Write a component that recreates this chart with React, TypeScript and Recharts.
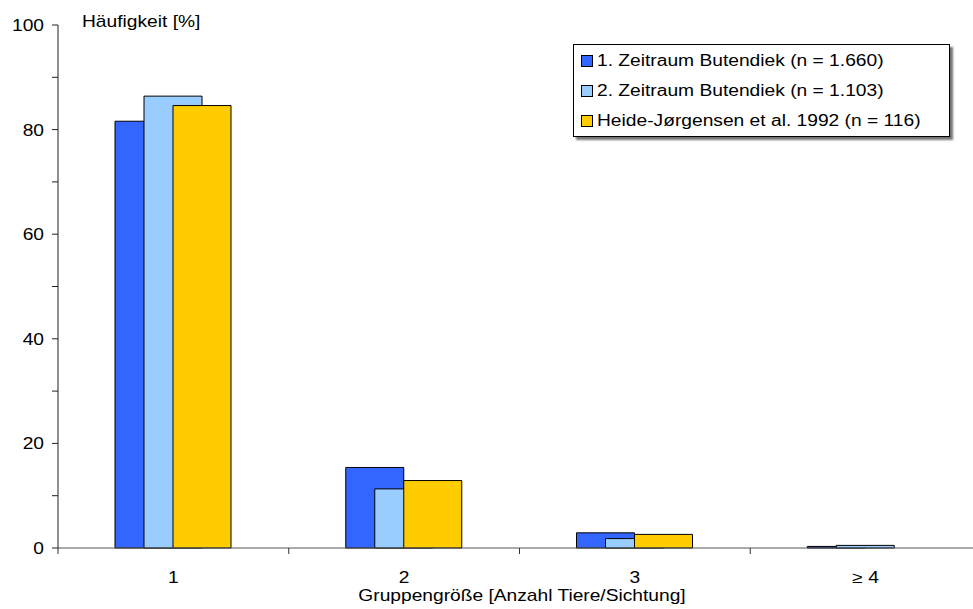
import { Bar, BarChart, Label, Legend, XAxis, YAxis } from "recharts"

const categories = ["1", "2", "3", "≥ 4"]
const zeitraum1 = [81.6, 15.4, 2.9, 0.3]
const zeitraum2 = [86.4, 11.3, 1.8, 0.5]
const heide = [84.6, 12.9, 2.6, 0]
const yTicks = [0, 10, 20, 30, 40, 50, 60, 70, 80, 90, 100]

const SERIES = [
  { key: "z1", name: "1. Zeitraum Butendiek (n = 1.660)", color: "#3366ff" },
  { key: "z2", name: "2. Zeitraum Butendiek (n = 1.103)", color: "#99ccff" },
  { key: "hj", name: "Heide-Jørgensen et al. 1992 (n = 116)", color: "#ffcc00" },
]

const data = categories.map((c, i) => ({
  cat: c,
  z1: zeitraum1[i],
  z2: zeitraum2[i],
  hj: heide[i],
}))

const FONT = "'Liberation Sans', Arial, sans-serif"
// the original text is a little wider than Arial, stretch it
const SX = 1.2

function XTick(props: any) {
  const { x, y, payload } = props
  const half = payload && payload.offset ? payload.offset : 115
  return (
    <g>
      <line x1={x - half} x2={x - half} y1={y} y2={y + 6} stroke="#333" />
      <text
        transform={`translate(${x},${y + 35}) scale(${SX},1)`}
        textAnchor="middle"
        fontSize={16}
        fill="#000"
        fontFamily={FONT}
      >
        {payload.value}
      </text>
    </g>
  )
}

function YTick(props: any) {
  const { x, y, payload } = props
  if (payload.value % 20 !== 0) return <g />
  return (
    <text
      transform={`translate(${x},${y + 6}) scale(${SX},1)`}
      textAnchor="end"
      fontSize={16}
      fill="#000"
      fontFamily={FONT}
    >
      {payload.value}
    </text>
  )
}

function LegendBox() {
  return (
    <div
      style={{
        width: 377,
        height: 93,
        background: "#fff",
        border: "1px solid #000",
        boxShadow: "3px 3px 2px rgba(0,0,0,0.55)",
        fontFamily: FONT,
        fontSize: 16,
        color: "#000",
        paddingTop: 1,
        boxSizing: "border-box",
      }}
    >
      {SERIES.map((s) => (
        <div key={s.key} style={{ display: "flex", alignItems: "center", height: 30, paddingLeft: 7 }}>
          <span
            style={{
              width: 10,
              height: 10,
              background: s.color,
              border: "1px solid #000",
              marginRight: 4,
              display: "inline-block",
              flex: "none",
            }}
          />
          <span style={{ display: "inline-block", transform: `scaleX(${SX})`, transformOrigin: "left center", whiteSpace: "nowrap" }}>
            {s.name}
          </span>
        </div>
      ))}
    </div>
  )
}

export default function App() {
  return (
    <div style={{ position: "absolute", left: 0, top: 0, background: "#fff", overflow: "hidden" }}>
      <BarChart
        width={973}
        height={609}
        data={data}
        margin={{ top: 25, right: -8, left: 8, bottom: 11 }}
        barSize={58}
        barGap={-29}
        barCategoryGap={0}
        style={{ fontFamily: FONT }}
      >
        <XAxis
          dataKey="cat"
          height={50}
          stroke="#555"
          tickLine={false}
          tickSize={0}
          tickMargin={0}
          tick={<XTick />}
        >
          <Label
            content={() => (
              <text
                transform={`translate(522,601) scale(${SX},1)`}
                textAnchor="middle"
                fontSize={16}
                fill="#000"
                fontFamily={FONT}
              >
                Gruppengröße [Anzahl Tiere/Sichtung]
              </text>
            )}
          />
        </XAxis>
        <YAxis
          width={50}
          domain={[0, 100]}
          ticks={yTicks}
          interval={0}
          stroke="#222"
          tickSize={6}
          tickMargin={8}
          tick={<YTick />}
        >
          <Label
            content={() => (
              <text
                transform={`translate(82,27) scale(${SX},1)`}
                fontSize={16}
                fill="#000"
                fontFamily={FONT}
              >
                Häufigkeit [%]
              </text>
            )}
          />
        </YAxis>
        <Legend
          layout="horizontal"
          verticalAlign="middle"
          content={() => <LegendBox />}
          wrapperStyle={{ left: 573, top: 44, width: 380 }}
        />
        {SERIES.map((s) => (
          <Bar
            key={s.key}
            dataKey={s.key}
            name={s.name}
            fill={s.color}
            stroke="#000"
            strokeWidth={1}
            isAnimationActive={false}
          />
        ))}
      </BarChart>
    </div>
  )
}
